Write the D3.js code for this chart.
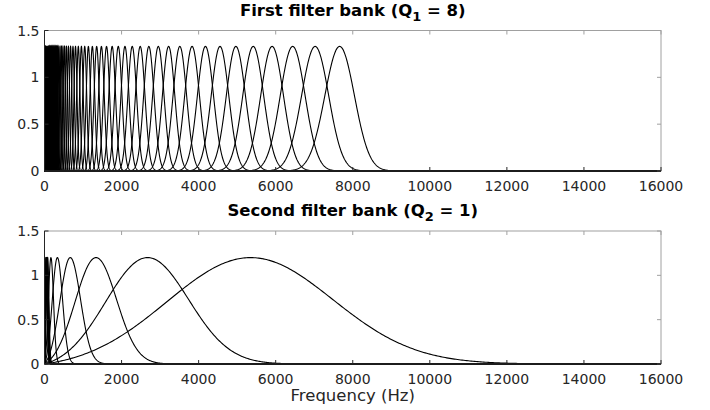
<!DOCTYPE html>
<html><head><meta charset="utf-8">
<script src="https://cdn.jsdelivr.net/npm/d3@7"></script>
<style>body{margin:0;background:#fff}svg{display:block}</style>
</head><body>
<svg id="c" width="710" height="410"></svg>
<script>
// ---- data ----
const xTicks = [0, 2000, 4000, 6000, 8000, 10000, 12000, 14000, 16000];
const yTicks = [0, 0.5, 1, 1.5];
const xDomain = [0, 16000];
const yDomain = [0, 1.5];

// First bank (Q1 = 8): centre frequencies (Hz), bandwidths (Hz), peak gain
const bank1Centers = [7660, 7024, 6441, 5907, 5417, 4967, 4555, 4177, 3830, 3512, 3221, 2954, 2708, 2484, 2277, 2088, 1915, 1756, 1610, 1477, 1354, 1242, 1139, 1044, 958, 878, 805, 739, 677, 621, 569, 522, 479, 439, 403, 369, 339,
  325, 311, 297, 283, 269, 254, 240, 226, 212, 198, 184, 170, 156, 141, 127, 113, 99, 85, 71, 57, 42, 28, 14];
const bank1Sigmas = [383, 351, 322, 295, 271, 248, 228, 209, 192, 176, 161, 148, 135, 124, 114, 104, 96, 88, 81, 74, 68, 62, 57, 52, 48, 44, 40, 37, 34, 31, 28, 26, 24, 22, 20, 18, 17,
  17, 17, 17, 17, 17, 17, 17, 17, 17, 17, 17, 17, 17, 17, 17, 17, 17, 17, 17, 17, 17, 17, 17];
const bank1Peak = 1.33;

// Second bank (Q2 = 1)
const bank2Centers = [5340, 2670, 1335, 668, 334, 167, 83, 69, 55, 42, 28, 14];
const bank2Sigmas = [2136, 1068, 534, 267, 134, 67, 33, 33, 33, 33, 33, 33];
const bank2Peak = 1.2;

const titles = ["First filter bank (Q", "Second filter bank (Q"];
const titleSubs = ["1", "2"];
const titleTails = [" = 8)", " = 1)"];
const xLabel = "Frequency (Hz)";

// ---- drawing ----
const svg = d3.select("#c");
const font = "DejaVu Sans, Liberation Sans, sans-serif";
const panels = [
  {top: 30.5, bottom: 171, centers: bank1Centers, sigmas: bank1Sigmas, peak: bank1Peak, titleY: 16, tickY: 191},
  {top: 231, bottom: 364, centers: bank2Centers, sigmas: bank2Sigmas, peak: bank2Peak, titleY: 216, tickY: 384}
];
const left = 44.5, right = 661;
const x = d3.scaleLinear().domain(xDomain).range([left, right]);

// Morlet-shaped response (Gaussian with DC correction), normalized to peak
function response(f, fc, s) {
  const g = Math.exp(-((f - fc) ** 2) / (2 * s * s));
  const k = Math.exp(-(fc * fc) / (2 * s * s));
  const d = Math.exp(-(f * f) / (2 * s * s));
  return g - k * d;
}

panels.forEach((p, i) => {
  const y = d3.scaleLinear().domain(yDomain).range([p.bottom, p.top]);
  const g = svg.append("g");
  const clipId = "clip" + i;
  svg.append("clipPath").attr("id", clipId).append("rect")
    .attr("x", left).attr("y", p.top - 2).attr("width", right - left).attr("height", p.bottom - p.top + 3);

  // box
  g.append("rect").attr("x", left).attr("y", p.top).attr("width", right - left).attr("height", p.bottom - p.top)
    .attr("fill", "none").attr("stroke", "#a0a0a0").attr("stroke-width", 1);

  // curves
  const line = d3.line().x(d => x(d[0])).y(d => y(d[1]));
  const cg = g.append("g").attr("clip-path", `url(#${clipId})`);
  p.centers.forEach((fc, j) => {
    const s = p.sigmas[j];
    const lo = Math.max(0, fc - 7 * s), hi = Math.min(16000, fc + 7 * s);
    const n = 400;
    const fs = [0];
    for (let t = 0; t <= n; t++) fs.push(lo + (hi - lo) * t / n);
    fs.push(16000);
    let peak = 0;
    fs.forEach(f => { peak = Math.max(peak, response(f, fc, s)); });
    const pts = fs.map(f => [f, Math.max(0, response(f, fc, s)) / peak * p.peak]);
    cg.append("path").attr("d", line(pts)).attr("fill", "none")
      .attr("stroke", "#000").attr("stroke-width", 1.1);
  });

  // ticks (inward, both sides)
  const tl = 4;
  xTicks.forEach(t => {
    const X = x(t);
    g.append("line").attr("x1", X).attr("x2", X).attr("y1", p.bottom).attr("y2", p.bottom - tl).attr("stroke", "#262626");
    g.append("line").attr("x1", X).attr("x2", X).attr("y1", p.top).attr("y2", p.top + tl).attr("stroke", "#a0a0a0");
    g.append("text").attr("x", X).attr("y", p.tickY).attr("text-anchor", "middle")
      .attr("font-family", font).attr("font-size", 14).attr("fill", "#262626").text(t);
  });
  yTicks.forEach(t => {
    const Y = y(t);
    g.append("line").attr("x1", left).attr("x2", left + tl).attr("y1", Y).attr("y2", Y).attr("stroke", "#262626");
    g.append("line").attr("x1", right).attr("x2", right - tl).attr("y1", Y).attr("y2", Y).attr("stroke", "#a0a0a0");
    g.append("text").attr("x", left - 5).attr("y", Y + 5).attr("text-anchor", "end")
      .attr("font-family", font).attr("font-size", 14).attr("fill", "#262626").text(t);
  });
  // axis lines left and bottom darker
  g.append("line").attr("x1", left).attr("x2", left).attr("y1", p.top).attr("y2", p.bottom).attr("stroke", "#262626");
  g.append("line").attr("x1", left).attr("x2", right).attr("y1", p.bottom).attr("y2", p.bottom).attr("stroke", "#262626").attr("stroke-width", 1.3);

  // title
  const tt = g.append("text").attr("x", (left + right) / 2).attr("y", p.titleY).attr("text-anchor", "middle")
    .attr("font-family", font).attr("font-size", 16.5).attr("font-weight", "bold").attr("fill", "#000");
  tt.append("tspan").text(titles[i]);
  tt.append("tspan").attr("dy", 5).attr("font-size", 13).text(titleSubs[i]);
  tt.append("tspan").attr("dy", -5).text(titleTails[i]);
});

svg.append("text").attr("x", (left + right) / 2).attr("y", 401).attr("text-anchor", "middle")
  .attr("font-family", font).attr("font-size", 16.5).attr("fill", "#262626").text(xLabel);
</script>
</body></html>
